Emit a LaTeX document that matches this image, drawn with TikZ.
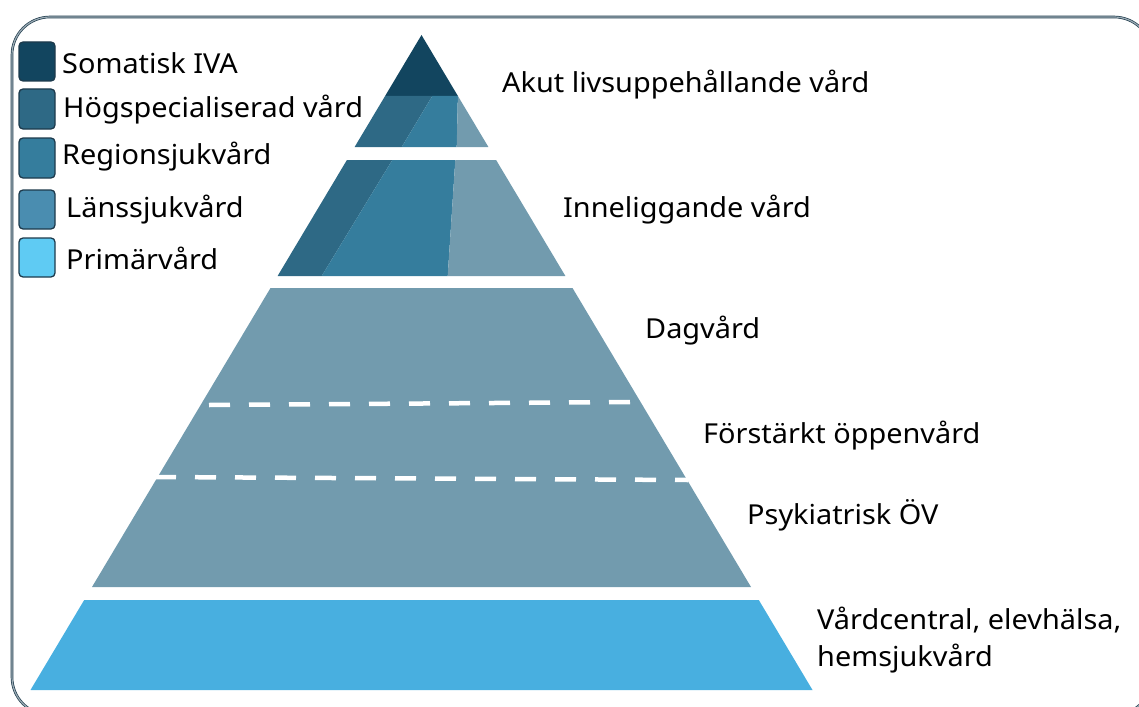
\documentclass[tikz,border=0pt]{standalone}
\usepackage{fontspec}
\setmainfont[FakeStretch=1.05]{Noto Sans}
\definecolor{cTop}{HTML}{12455F}
\definecolor{cHog}{HTML}{2E6985}
\definecolor{cReg}{HTML}{357D9D}
\definecolor{cGray}{HTML}{729BAE}
\definecolor{cLans}{HTML}{4A8DB0}
\definecolor{cPrimL}{HTML}{5FCBF3}
\definecolor{cBase}{HTML}{48AFE0}
\definecolor{bord}{HTML}{223E4E}
\definecolor{borddbl}{HTML}{9AAAB4}
\definecolor{legline}{HTML}{1D3A4C}
\begin{document}
\begin{tikzpicture}[x=1pt,y=-1pt,
  lab/.style={anchor=west, inner sep=0pt, font=\fontsize{27.5}{37}\selectfont},
  nlab/.style={anchor=west, inner sep=0pt, align=left, font=\fontsize{27.5}{37}\selectfont},
  legbox/.style={draw=legline, line width=1.3pt, rounded corners=4pt},
  tierdash/.style={draw=white, line width=4.5pt, dash pattern=on 21pt off 19pt}]
\useasboundingbox (0,0) rectangle (1139,706);
% frame
\draw[draw=bord, double=borddbl, double distance=1.2pt, line width=0.7pt, rounded corners=38pt]
  (12,17) rectangle (1152,715);
% tier 1
\fill[cTop] (421.5,35) -- (457.9,96) -- (385.1,96) -- cycle;
\fill[cHog] (385.1,96) -- (432.3,96) -- (401.7,147) -- (354.6,147) -- cycle;
\fill[cReg] (432.3,96) -- (457.9,96) -- (456.7,147) -- (401.7,147) -- cycle;
\fill[cGray] (457.9,96) -- (488.4,147) -- (456.7,147) -- cycle;
% tier 2
\fill[cHog] (346.9,160) -- (392.3,160) -- (321.7,276) -- (277.6,276) -- cycle;
\fill[cReg] (392.3,160) -- (455.3,160) -- (447.7,276) -- (321.7,276) -- cycle;
\fill[cGray] (455.3,160) -- (496.1,160) -- (565.4,276) -- (447.7,276) -- cycle;
% tier 3
\fill[cGray] (270.5,288) -- (572.5,288) -- (751,587) -- (92,587) -- cycle;
\draw[tierdash] (209,405) -- (636,402);
\draw[tierdash] (155,477) -- (688,480);
% tier 4
\fill[cBase] (84.2,600) -- (758.8,600) -- (812.5,690) -- (30.5,690) -- cycle;
% legend
\draw[legbox, fill=cTop] (19,42) rectangle (55,81);
\draw[legbox, fill=cHog] (19,89) rectangle (55,129);
\draw[legbox, fill=cReg] (19,138) rectangle (55,178);
\draw[legbox, fill=cLans] (19,190) rectangle (55,229);
\draw[legbox, fill=cPrimL] (19,238) rectangle (55,277);
\node[lab] (l1) at (62,63) {Somatisk IVA};
\node[lab] (l2) at (63,110) {Högspecialiserad vård};
\node[lab] (l3) at (62,157) {Regionsjukvård};
\node[lab] (l4) at (66,210) {Länssjukvård};
\node[lab] (l5) at (66,258) {Primärvård};
% level labels
\node[lab] (t1) at (502,85) {Akut livsuppehållande vård};
\node[lab] (t2) at (563,210) {Inneliggande vård};
\node[lab] (t3) at (645,331) {Dagvård};
\node[lab] (t4) at (703,436) {Förstärkt öppenvård};
\node[lab] (t5) at (747,515) {Psykiatrisk ÖV};
\node[nlab] (t6) at (817,640) {Vårdcentral, elevhälsa,\\hemsjukvård};
\end{tikzpicture}
\end{document}
